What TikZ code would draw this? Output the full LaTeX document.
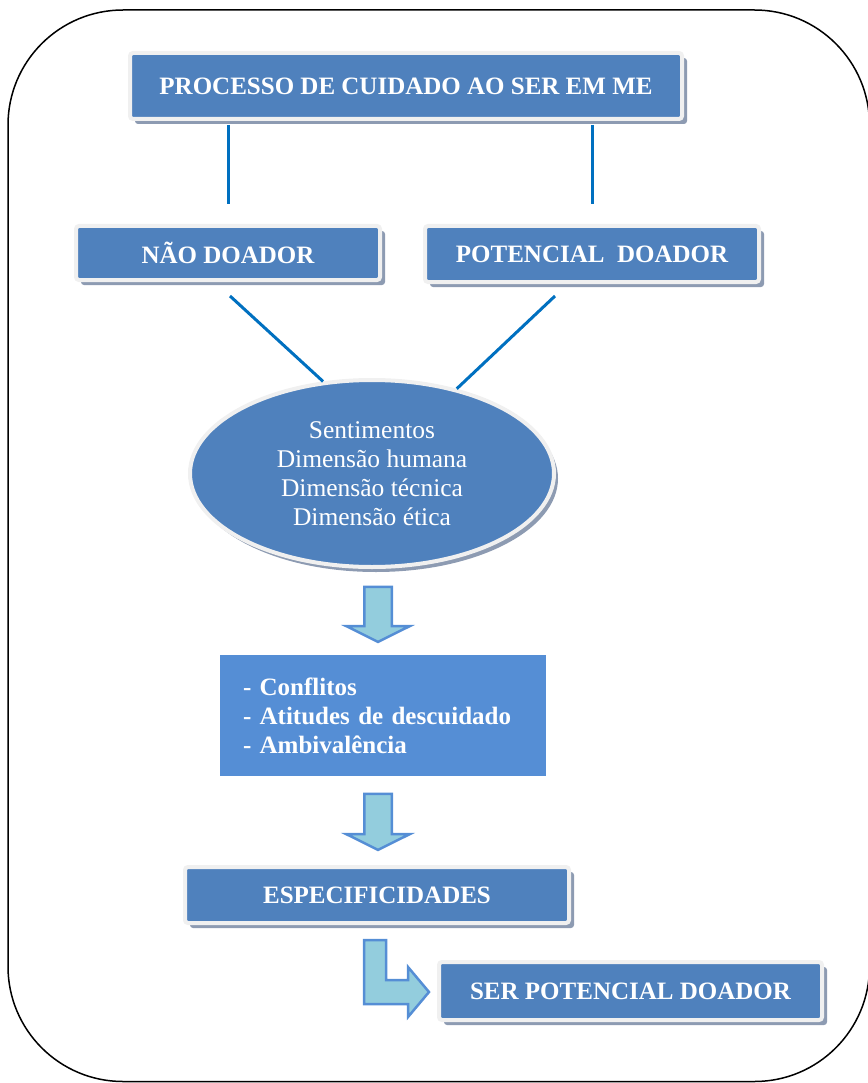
\documentclass[tikz,border=0pt]{standalone}
\usepackage{fontspec}
\setmainfont{Liberation Serif}
\usetikzlibrary{shapes.geometric,shapes.arrows,shadows}

\definecolor{azulcaixa}{RGB}{79,129,189}
\definecolor{azulret}{RGB}{85,142,213}
\definecolor{azulseta}{RGB}{147,205,221}
\definecolor{azullinha}{RGB}{0,112,192}
\definecolor{sombra}{RGB}{141,155,178}

\tikzset{caixa/.style = {rectangle, rounded corners=3pt, fill=azulcaixa,
                         draw=black!6, line width=4pt, text=white,
                         font=\fontsize{25}{29}\selectfont\bfseries,
                         drop shadow={shadow xshift=5pt, shadow yshift=-5pt,
                                      fill=sombra, opacity=1},
                         minimum height=#1},
         caixa/.default=56pt,
         ligacao/.style = {draw=azullinha, line width=3pt},
         contorno/.style = {draw=azulret, fill=azulseta, line width=2.5pt},
         seta/.style = {single arrow, contorno, minimum height=55pt,
                        inner xsep=0pt, inner ysep=12.5pt,
                        single arrow head extend=18pt,
                        single arrow tip angle=127, rotate=-90}
        }

\begin{document}
\begin{tikzpicture}[x=1pt, y=-1pt]
  \useasboundingbox (0,0) rectangle (867,1083);
  \draw[line width=1.5pt, rounded corners=115pt] (8,10) rectangle (869.5,1081.5);

  \node[caixa=66pt, minimum width=552pt] (processo) at (406,86)
       {PROCESSO DE CUIDADO AO SER EM ME};
  \node[caixa=54pt, minimum width=304pt] (naodoador) at (228,253) {NÃO DOADOR};
  \node[caixa, minimum width=334pt] (potencial) at (592,254) {POTENCIAL~~DOADOR};

  \node[ellipse, fill=azulcaixa, draw=black!6, line width=4pt, text=white,
        minimum width=364pt, minimum height=187pt, align=center,
        font=\fontsize{25.5}{29}\selectfont,
        drop shadow={shadow xshift=4pt, shadow yshift=-5pt, fill=sombra, opacity=1}]
       (elipse) at (372,473.5)
       {Sentimentos\\Dimensão humana\\Dimensão técnica\\Dimensão ética};

  \node[rectangle, fill=azulret, text=white, minimum height=121pt,
        text width=280pt, inner xsep=23pt, align=left,
        font=\fontsize{25}{29}\selectfont\bfseries]
       (conflitos) at (383,715.5)
       {- Conflitos\\- Atitudes de descuidado\\- Ambivalência};

  \node[caixa, minimum width=384pt] (especif) at (377,895) {ESPECIFICIDADES};
  \node[caixa=58pt, minimum width=383pt] (serpot) at (630.5,991)
       {SER POTENCIAL DOADOR};

  % ligacoes
  \draw[ligacao, shorten <=4pt, shorten >=20pt]
       (processo.south -| naodoador) -- (naodoador.north);
  \draw[ligacao, shorten <=4pt, shorten >=20pt]
       (processo.south -| potencial) -- (potencial.north);
  \draw[ligacao] ([xshift=2pt,yshift=-14pt]naodoador.south) -- (elipse.118);
  \draw[ligacao] ([xshift=-37pt,yshift=-12pt]potencial.south) -- (elipse.45);

  % setas
  \node[seta] (seta1) at (378,611) {};
  \node[seta, minimum height=56pt] (seta2) at (378,818.5) {};
  \draw[contorno] (364,940) -- (386,940) -- (386,980) -- (408,980) -- (408,967)
       -- (429,992) -- (408,1017) -- (408,1004) -- (364,1004) -- cycle;
\end{tikzpicture}
\end{document}
